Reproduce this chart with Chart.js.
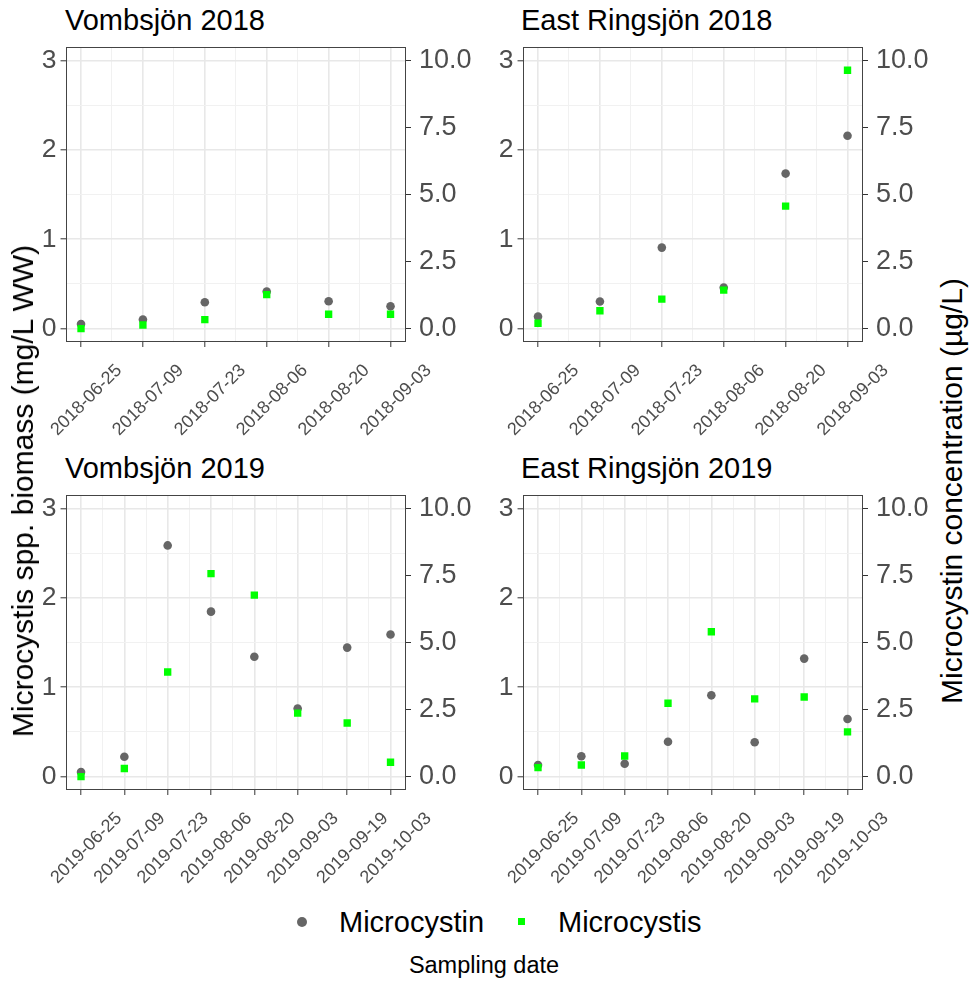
<!DOCTYPE html>
<html>
<head>
<meta charset="utf-8">
<script src="https://cdn.jsdelivr.net/npm/chart.js@4.4.1/dist/chart.umd.min.js"></script>
<style>
  body { margin: 0; background: #fff; font-family: 'Liberation Sans', Arial, sans-serif; }
  #page { position: relative; width: 978px; height: 982px; overflow: hidden; }
  canvas { position: absolute; }
  .title, .txt { position: absolute; white-space: nowrap; color: #000; }
  .title { font-size: 29px; line-height: 29px; }
  .vert { position: absolute; white-space: nowrap; font-size: 30px; line-height: 30px; transform: translate(-50%, -50%) rotate(-90deg); }
</style>
</head>
<body>
<div id="page">
  <div class="title" style="left:65px; top:6px;">Vombsjön 2018</div>
  <div class="title" style="left:521px; top:6px;">East Ringsjön 2018</div>
  <div class="title" style="left:65px; top:454px;">Vombsjön 2019</div>
  <div class="title" style="left:521px; top:454px;">East Ringsjön 2019</div>

  <canvas id="vomb2018" width="478" height="432" style="left:0px; top:20px;"></canvas>
  <canvas id="ring2018" width="478" height="432" style="left:457px; top:20px;"></canvas>
  <canvas id="vomb2019" width="478" height="432" style="left:0px; top:468px;"></canvas>
  <canvas id="ring2019" width="478" height="432" style="left:457px; top:468px;"></canvas>

  <div class="vert" style="left:23px; top:491px;">Microcystis spp. biomass (mg/L WW)</div>
  <div class="vert" style="left:952px; top:491px;">Microcystin concentration (µg/L)</div>

  <div style="position:absolute; left:297px; top:917px; width:10px; height:10px; border-radius:50%; background:#666666;"></div>
  <div class="title" style="left:339px; top:908px;">Microcystin</div>
  <div style="position:absolute; left:518px; top:918px; width:7px; height:7px; background:#00FF00;"></div>
  <div class="title" style="left:558px; top:908px;">Microcystis</div>
  <div class="txt" style="left:484px; top:954px; font-size:23.5px; line-height:23.5px; transform:translateX(-50%);">Sampling date</div>
</div>

<script>
const dates2018 = ['2018-06-25', '2018-07-09', '2018-07-23', '2018-08-06', '2018-08-20', '2018-09-03']
const dates2019 = ['2019-06-25', '2019-07-09', '2019-07-23', '2019-08-06', '2019-08-20', '2019-09-03', '2019-09-19', '2019-10-03']

// microcystin concentration (ug/L) - right axis
const vomb2018Toxin = [0.17, 0.34, 0.98, 1.38, 1.02, 0.83]
const ring2018Toxin = [0.45, 1.01, 3.02, 1.53, 5.78, 7.19]
const vomb2019Toxin = [0.17, 0.74, 8.62, 6.15, 4.47, 2.54, 4.81, 5.30]
const ring2019Toxin = [0.43, 0.76, 0.48, 1.30, 3.03, 1.28, 4.40, 2.15]

// Microcystis biomass (mg/L WW) - left axis
const vomb2018Biomass = [0.0, 0.04, 0.10, 0.38, 0.16, 0.16]
const ring2018Biomass = [0.06, 0.20, 0.33, 0.43, 1.37, 2.89]
const vomb2019Biomass = [0.0, 0.09, 1.17, 2.27, 2.03, 0.71, 0.60, 0.16]
const ring2019Biomass = [0.10, 0.13, 0.23, 0.82, 1.62, 0.87, 0.89, 0.50]

const leftTicks = [0, 1, 2, 3]
const rightTicks = [0, 2.5, 5, 7.5, 10]

const FONT = "'Liberation Sans', Arial, sans-serif"
const DAY = 86400000
const dayNum = s => Date.parse(s) / DAY
const midpoints = arr => arr.slice(1).map((v, i) => (v + arr[i]) / 2)

const panelBorder = {
    id: 'panelBorder',
    afterDraw(chart) {
        const { ctx, chartArea: a } = chart
        ctx.save()
        ctx.strokeStyle = '#444444'
        ctx.lineWidth = 1
        ctx.strokeRect(Math.round(a.left) + 0.5, Math.round(a.top) + 0.5, Math.round(a.right - a.left) - 1, Math.round(a.bottom - a.top) - 1)
        ctx.restore()
    }
}

function makePanel(id, dates, toxin, biomass) {
    const xs = dates.map(dayNum)
    const span = xs[xs.length - 1] - xs[0]
    const xTicks = xs.concat(midpoints(xs)).sort((a, b) => a - b)
    const yTicks = leftTicks.concat(midpoints(leftTicks)).sort((a, b) => a - b)

    new Chart(document.getElementById(id), {
        type: 'scatter',
        data: {
            datasets: [{
                label: 'Microcystis',
                data: xs.map((x, i) => ({ x: x, y: biomass[i] })),
                yAxisID: 'y',
                pointStyle: 'rect',
                pointRadius: 5.2,
                backgroundColor: '#00FF00',
                borderWidth: 0
            }, {
                label: 'Microcystin',
                data: xs.map((x, i) => ({ x: x, y: toxin[i] })),
                yAxisID: 'y2',
                pointStyle: 'circle',
                pointRadius: 4.3,
                backgroundColor: '#666666',
                borderWidth: 0
            }]
        },
        options: {
            responsive: false,
            animation: false,
            events: [],
            layout: { padding: { top: 27, left: 0, right: 0, bottom: 0 } },
            plugins: {
                legend: { display: false },
                tooltip: { enabled: false }
            },
            scales: {
                x: {
                    type: 'linear',
                    min: xs[0] - span * 0.05,
                    max: xs[xs.length - 1] + span * 0.05,
                    afterBuildTicks: s => { s.ticks = xTicks.map(v => ({ value: v })) },
                    afterFit: s => { s.height = 110 },
                    border: { display: false },
                    grid: {
                        color: c => xs.includes(c.tick.value) ? '#E8E8E8' : '#F1F1F1',
                        lineWidth: c => xs.includes(c.tick.value) ? 1.6 : 1,
                        tickColor: c => xs.includes(c.tick.value) ? '#333333' : 'rgba(0,0,0,0)',
                        tickLength: 5,
                        tickWidth: 1
                    },
                    ticks: {
                        autoSkip: false,
                        minRotation: 45,
                        maxRotation: 45,
                        labelOffset: 38,
                        padding: 13,
                        color: '#4D4D4D',
                        font: { family: FONT, size: 18 },
                        callback: v => { const i = xs.indexOf(v); return i < 0 ? '' : dates[i] }
                    }
                },
                y: {
                    position: 'left',
                    min: -0.15,
                    max: 3.15,
                    afterBuildTicks: s => { s.ticks = yTicks.map(v => ({ value: v })) },
                    afterFit: s => { s.width = 64 },
                    border: { display: false },
                    grid: {
                        color: c => leftTicks.includes(c.tick.value) ? '#E8E8E8' : '#F1F1F1',
                        lineWidth: c => leftTicks.includes(c.tick.value) ? 1.6 : 1,
                        tickColor: c => leftTicks.includes(c.tick.value) ? '#333333' : 'rgba(0,0,0,0)',
                        tickLength: 5,
                        tickWidth: 1
                    },
                    ticks: {
                        padding: 4,
                        color: '#4D4D4D',
                        font: { family: FONT, size: 26.5 },
                        callback: v => leftTicks.includes(v) ? String(v) : ''
                    }
                },
                y2: {
                    position: 'right',
                    min: -0.5,
                    max: 10.5,
                    afterBuildTicks: s => { s.ticks = rightTicks.map(v => ({ value: v })) },
                    afterFit: s => { s.width = 72 },
                    border: { display: false },
                    grid: {
                        drawOnChartArea: false,
                        tickColor: '#333333',
                        tickLength: 5,
                        tickWidth: 1
                    },
                    ticks: {
                        padding: 8,
                        color: '#4D4D4D',
                        font: { family: FONT, size: 27 },
                        callback: v => v.toFixed(1)
                    }
                }
            }
        },
        plugins: [panelBorder]
    })
}

makePanel('vomb2018', dates2018, vomb2018Toxin, vomb2018Biomass)
makePanel('ring2018', dates2018, ring2018Toxin, ring2018Biomass)
makePanel('vomb2019', dates2019, vomb2019Toxin, vomb2019Biomass)
makePanel('ring2019', dates2019, ring2019Toxin, ring2019Biomass)
</script>
</body>
</html>
